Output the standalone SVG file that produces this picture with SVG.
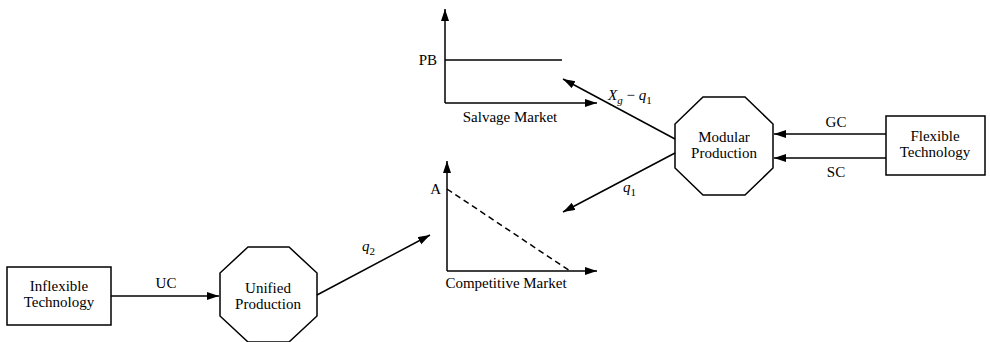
<svg xmlns="http://www.w3.org/2000/svg" width="990" height="342" viewBox="0 0 990 342">
<defs>
<marker id="ah" markerUnits="userSpaceOnUse" markerWidth="13" markerHeight="9" refX="12" refY="4" orient="auto">
<path d="M0,0 L12,4 L0,8 z" fill="#000"/>
</marker>
<style>
.n{fill:#fff;stroke:#000;stroke-width:1.5}
.c{stroke:#000;stroke-width:1.5;fill:none}
.a{marker-end:url(#ah)}
.d{stroke-dasharray:6,4}
text{font-family:"Liberation Serif","Times New Roman",serif;font-size:15px;fill:#000}
.m{text-anchor:middle}
.i{font-style:italic}
</style>
</defs>
<rect width="990" height="342" fill="#fff"/>

<g id="inflexible">
<rect class="n" x="7" y="267" width="104" height="58"/>
<text class="m" x="59" y="291">Inflexible</text>
<text class="m" x="59" y="307">Technology</text>
</g>

<g id="unified">
<polygon class="n" points="248,247 289,247 317,273 317,316 289,342 248,342 220,316 220,273"/>
<text class="m" x="268" y="293">Unified</text>
<text class="m" x="268" y="309">Production</text>
</g>

<g id="modular">
<polygon class="n" points="703,97 745,97 773,124 773,168 745,195 703,195 675,168 675,124"/>
<text class="m" x="724" y="142">Modular</text>
<text class="m" x="724" y="158">Production</text>
</g>

<g id="flexible">
<rect class="n" x="886" y="116" width="99" height="59"/>
<text class="m" x="935" y="141">Flexible</text>
<text class="m" x="935" y="157">Technology</text>
</g>

<g id="salvage">
<line class="c a" x1="445" y1="103" x2="445" y2="9"/>
<line class="c a" x1="445" y1="103" x2="597" y2="103"/>
<line class="c" x1="445" y1="60" x2="562" y2="60"/>
<text x="437" y="65" text-anchor="end">PB</text>
<text class="m" x="510" y="122">Salvage Market</text>
</g>

<g id="competitive">
<line class="c a" x1="447" y1="271" x2="447" y2="161"/>
<line class="c a" x1="447" y1="271" x2="597" y2="271"/>
<line class="c d" x1="447" y1="189" x2="570" y2="271"/>
<text x="441" y="194" text-anchor="end">A</text>
<text class="m" x="506" y="288">Competitive Market</text>
</g>

<g id="connectors">
<line class="c a" x1="111" y1="296" x2="219" y2="296"/>
<text class="m" x="166" y="288">UC</text>
<line class="c a" x1="317" y1="295" x2="430" y2="235"/>
<text x="362" y="251" class="i">q<tspan dy="4" font-size="11" font-style="normal">2</tspan></text>
<line class="c a" x1="675" y1="139" x2="563" y2="79"/>
<text x="608" y="100"><tspan class="i">X</tspan><tspan class="i" dy="4" font-size="11">g</tspan><tspan dy="-4"> − </tspan><tspan class="i">q</tspan><tspan dy="4" font-size="11">1</tspan></text>
<line class="c a" x1="675" y1="153" x2="563" y2="212"/>
<text x="623" y="192" class="i">q<tspan dy="4" font-size="11" font-style="normal">1</tspan></text>
<line class="c a" x1="886" y1="134" x2="774" y2="134"/>
<text class="m" x="836" y="127">GC</text>
<line class="c a" x1="886" y1="158" x2="774" y2="158"/>
<text class="m" x="836" y="177">SC</text>
</g>
</svg>
